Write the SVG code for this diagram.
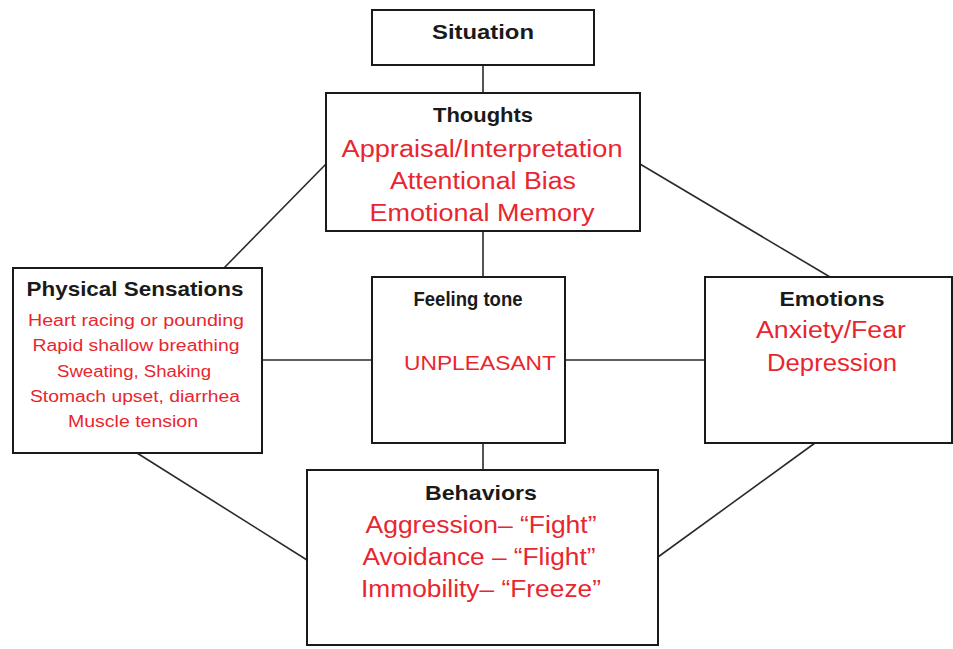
<svg xmlns="http://www.w3.org/2000/svg" width="953" height="649" viewBox="0 0 953 649">
<style>
.box{fill:#fff;stroke:#1a1a1a;stroke-width:2}
.con line{stroke:#2a2a2a;stroke-width:1.6}
.h{font-family:"Liberation Sans",Arial,sans-serif;font-weight:bold;fill:#1a1a1a;text-anchor:middle;font-size:21px}
.r{font-family:"Liberation Sans",Arial,sans-serif;fill:#e8262f;text-anchor:middle;font-size:23px}
.s{font-family:"Liberation Sans",Arial,sans-serif;fill:#e8262f;text-anchor:middle;font-size:16px}
</style>
<rect width="953" height="649" fill="#fff"/>
<g class="con" id="connectors">
<line x1="483" y1="65" x2="483" y2="93"/>
<line x1="483" y1="231" x2="483" y2="277"/>
<line x1="483" y1="443" x2="483" y2="470"/>
<line x1="262" y1="360" x2="372" y2="360"/>
<line x1="565" y1="360" x2="705" y2="360"/>
<line x1="326" y1="164" x2="224" y2="268"/>
<line x1="640" y1="164" x2="830" y2="277"/>
<line x1="137" y1="453" x2="307" y2="560"/>
<line x1="815" y1="443" x2="658" y2="557"/>
</g>
<g id="situation">
<rect class="box" x="372" y="10" width="222" height="55"/>
<text class="h" x="483" y="39" textLength="102" lengthAdjust="spacingAndGlyphs">Situation</text>
</g>
<g id="thoughts">
<rect class="box" x="326" y="93" width="314" height="138"/>
<text class="h" x="483" y="122" textLength="100" lengthAdjust="spacingAndGlyphs">Thoughts</text>
<text class="r" x="482" y="157" textLength="281" lengthAdjust="spacingAndGlyphs">Appraisal/Interpretation</text>
<text class="r" x="483" y="189" textLength="186" lengthAdjust="spacingAndGlyphs">Attentional Bias</text>
<text class="r" x="482" y="221" textLength="225" lengthAdjust="spacingAndGlyphs">Emotional Memory</text>
</g>
<g id="physical">
<rect class="box" x="13" y="268" width="249" height="185"/>
<text class="h" x="135" y="296" textLength="217" lengthAdjust="spacingAndGlyphs">Physical Sensations</text>
<text class="s" x="136" y="326" textLength="216" lengthAdjust="spacingAndGlyphs">Heart  racing or pounding</text>
<text class="s" x="136" y="351" textLength="207" lengthAdjust="spacingAndGlyphs">Rapid shallow breathing</text>
<text class="s" x="134" y="377" textLength="154" lengthAdjust="spacingAndGlyphs">Sweating,  Shaking</text>
<text class="s" x="135" y="402" textLength="210" lengthAdjust="spacingAndGlyphs">Stomach upset, diarrhea</text>
<text class="s" x="133" y="427" textLength="130" lengthAdjust="spacingAndGlyphs">Muscle tension</text>
</g>
<g id="feeling">
<rect class="box" x="372" y="277" width="193" height="166"/>
<text class="h" x="468" y="306" textLength="109" lengthAdjust="spacingAndGlyphs">Feeling tone</text>
<text class="r" x="480" y="370" textLength="152" lengthAdjust="spacingAndGlyphs" style="font-size:21px">UNPLEASANT</text>
</g>
<g id="emotions">
<rect class="box" x="705" y="277" width="247" height="166"/>
<text class="h" x="832" y="306" textLength="105" lengthAdjust="spacingAndGlyphs">Emotions</text>
<text class="r" x="831" y="338" textLength="150" lengthAdjust="spacingAndGlyphs">Anxiety/Fear</text>
<text class="r" x="832" y="371" textLength="130" lengthAdjust="spacingAndGlyphs">Depression</text>
</g>
<g id="behaviors">
<rect class="box" x="307" y="470" width="351" height="175"/>
<text class="h" x="481" y="500" textLength="112" lengthAdjust="spacingAndGlyphs">Behaviors</text>
<text class="r" x="481" y="533" textLength="231" lengthAdjust="spacingAndGlyphs">Aggression– “Fight”</text>
<text class="r" x="479" y="565" textLength="233" lengthAdjust="spacingAndGlyphs">Avoidance – “Flight”</text>
<text class="r" x="481" y="597" textLength="240" lengthAdjust="spacingAndGlyphs">Immobility– “Freeze”</text>
</g>
</svg>
